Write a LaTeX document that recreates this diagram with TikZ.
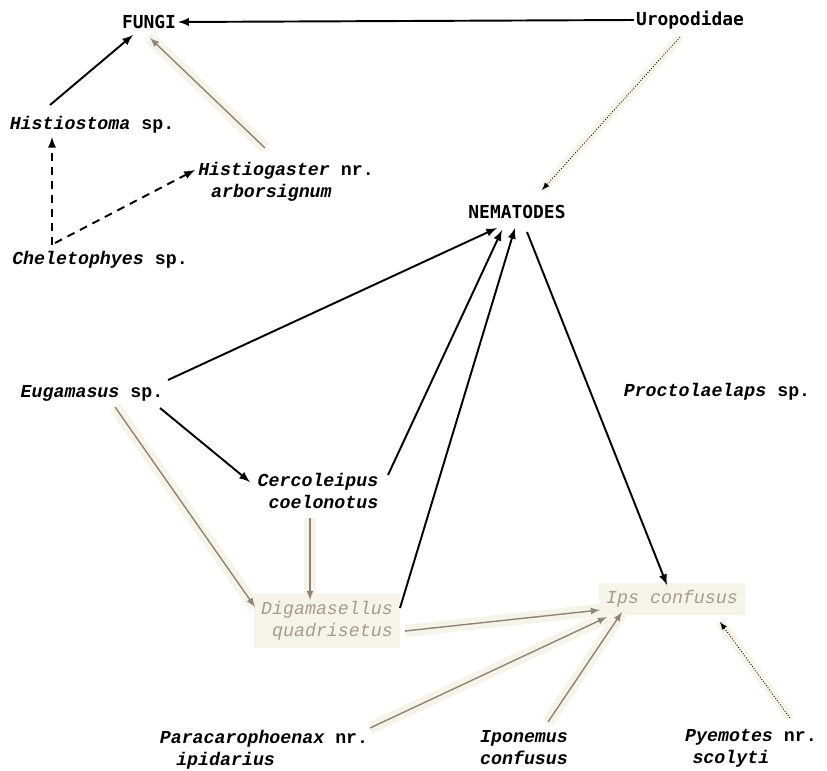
\documentclass[tikz,border=0pt]{standalone}
\usepackage{fontspec}
\setmonofont{Liberation Mono}
\newfontfamily\groupfont{DejaVu Sans Mono}
\usetikzlibrary{calc}
\definecolor{fadegrey}{HTML}{8C8578}
\definecolor{fadetext}{HTML}{A39D90}
\definecolor{halo}{HTML}{F6F3E8}
\tikzset{
  mite/.style={font=\fontsize{10.4}{12.5}\selectfont\ttfamily\bfseries\itshape, inner sep=1pt},
  group/.style={font=\fontsize{10.2}{12}\selectfont\groupfont\bfseries, inner sep=1pt},
  faded/.style={mite, font=\fontsize{10.4}{12.5}\selectfont\ttfamily\itshape, text=fadetext, fill=halo, inner sep=4pt},
  eats/.style={->, >=latex, line width=1.1pt},
  maybe/.style={eats, dash pattern=on 4.5pt off 3.5pt},
  weak/.style={->, >=latex, line width=0.8pt, draw=fadegrey, preaction={draw=halo, line width=7pt, -}},
  faint/.style={->, >=latex, line width=0.5pt, densely dotted, preaction={draw=halo, line width=5pt, -, solid}},
}

\begin{document}
\begin{tikzpicture}[x=0.02cm, y=-0.02cm]
\useasboundingbox (0,0) rectangle (827,770);
\node[group] (fungi) at (149,22) {FUNGI};
\node[group] (uropod) at (690,20) {Uropodidae};
\node[group] (nema) at (517,212) {NEMATODES};
\node[mite] (histiostoma) at (92,125) {Histiostoma \upshape sp.};
\node[mite, align=left] (histiogaster) at (286,182) {Histiogaster {\upshape nr.}\\\hspace{0.7em}arborsignum};
\node[mite] (chelet) at (100,260) {Cheletophyes \upshape sp.};
\node[mite] (eugam) at (92,393) {Eugamasus \upshape sp.};
\node[mite] (procto) at (717,392) {Proctolaelaps \upshape sp.};
\node[mite, align=right] (cercol) at (318,491) {Cercoleipus\\coelonotus};
\node[faded, align=right] (digam) at (327,621) {Digamasellus\\quadrisetus};
\node[faded] (ips) at (672,599) {Ips confusus};
\node[mite, align=left] (parac) at (264,750) {Paracarophoenax {\upshape nr.}\\\hspace{0.9em}ipidarius};
\node[mite, align=center] (iponem) at (524,748) {Iponemus\\confusus};
\node[mite, align=left] (pyem) at (751,748) {Pyemotes {\upshape nr.}\\\hspace{0.4em}scolyti};
%
%
\draw[eats] (uropod.west) -- (fungi.east);
\draw[eats] ($(histiostoma)+(-42,-20)$) -- ($(fungi)+(-16,13)$);
\draw[weak] ($(histiogaster)+(-21,-34)$) -- ($(fungi)+(1,16)$);
\draw[maybe] ($(chelet)+(-48,-15)$) -- ($(histiostoma)+(-40,12)$);
\draw[maybe] ($(chelet)+(-45,-17)$) -- ($(histiogaster)+(-91,-12)$);
\draw[faint] ($(uropod)+(-10,17)$) -- ($(nema)+(25,-22)$);
%
%
\draw[eats] ($(eugam)+(76,-13)$) -- ($(nema)+(-20,16)$);
\draw[eats] ($(cercol)+(70,-16)$) -- ($(nema)+(-15,18)$);
\draw[eats] ($(digam)+(73,-13)$) -- ($(nema)+(-2,16)$);
\draw[eats] ($(nema)+(10,20)$) -- ($(ips)+(-5,-14)$);
\draw[eats] ($(eugam)+(68,15)$) -- ($(cercol)+(-68,-9)$);
\draw[weak] ($(eugam)+(23,14)$) -- ($(digam)+(-72,-14)$);
\draw[weak] ($(cercol)+(-8,27)$) -- ($(digam)+(-17,-21)$);
%
%
\draw[weak] ($(digam)+(78,10)$) -- ($(ips)+(-72,11)$);
\draw[weak] ($(parac)+(106,-22)$) -- ($(ips)+(-65,18)$);
\draw[weak] ($(iponem)+(24,-26)$) -- ($(ips)+(-50,13)$);
\draw[faint] ($(pyem)+(39,-30)$) -- ($(ips)+(48,23)$);
\end{tikzpicture}
\end{document}
